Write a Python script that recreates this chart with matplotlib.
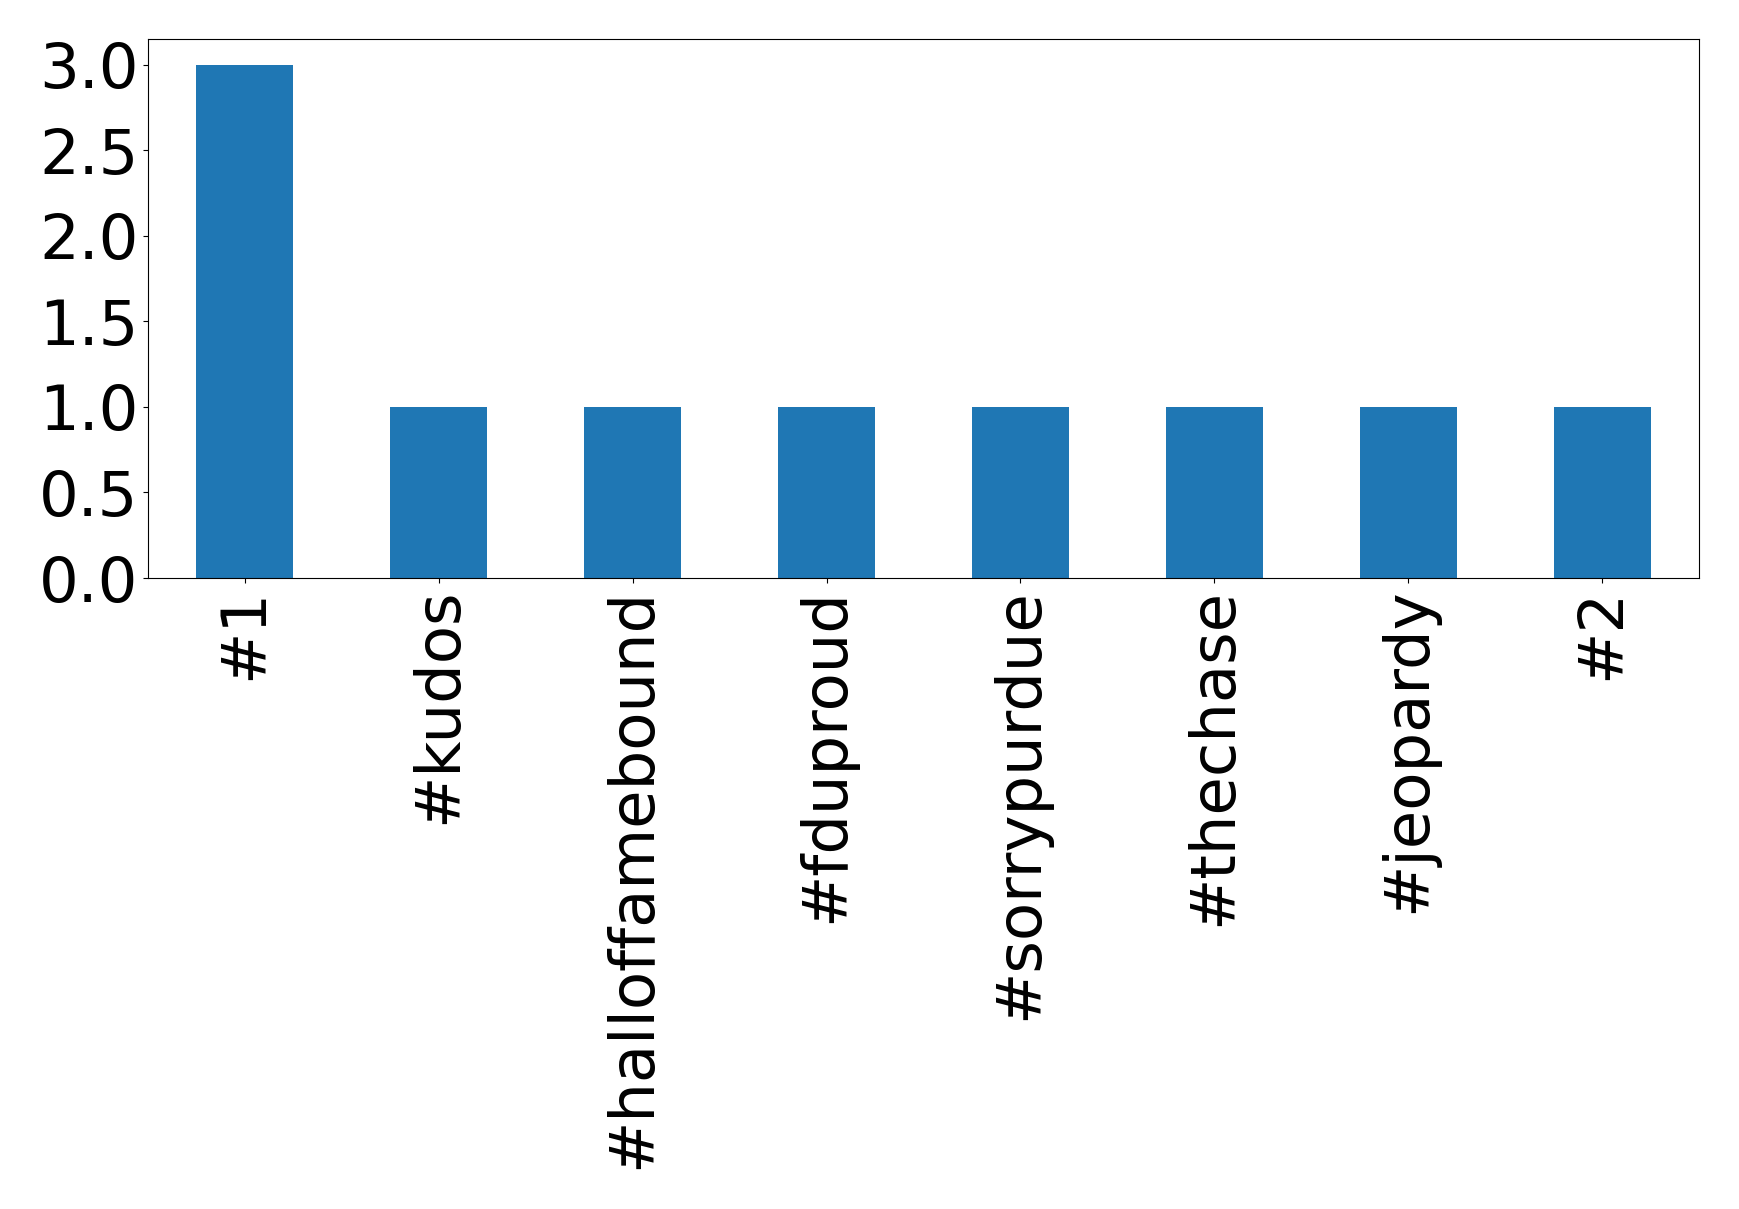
import matplotlib
matplotlib.use("Agg")
import matplotlib.pyplot as plt
import numpy as np

categories = ["#1", "#kudos", "#halloffamebound", "#fduproud", "#sorrypurdue", "#thechase", "#jeopardy", "#2"]
counts = [3, 1, 1, 1, 1, 1, 1, 1]

fig = plt.figure(figsize=(17.39, 12.09), dpi=100)
ax = fig.add_axes([148/1739, 1 - 578/1209, (1699-148)/1739, (578-39)/1209])
x = np.arange(len(categories))
ax.bar(x, counts, width=0.5, color="#1f77b4")
ax.set_xlim(-0.5, len(categories) - 0.5)
ax.set_ylim(0, 3.15)
ax.set_yticks([0.0, 0.5, 1.0, 1.5, 2.0, 2.5, 3.0])
ax.set_yticklabels(["0.0", "0.5", "1.0", "1.5", "2.0", "2.5", "3.0"])
ax.set_xticks(x)
ax.set_xticklabels(categories, rotation=90)
ax.tick_params(axis="both", labelsize=45)
fig.savefig("out.png", dpi=100)
